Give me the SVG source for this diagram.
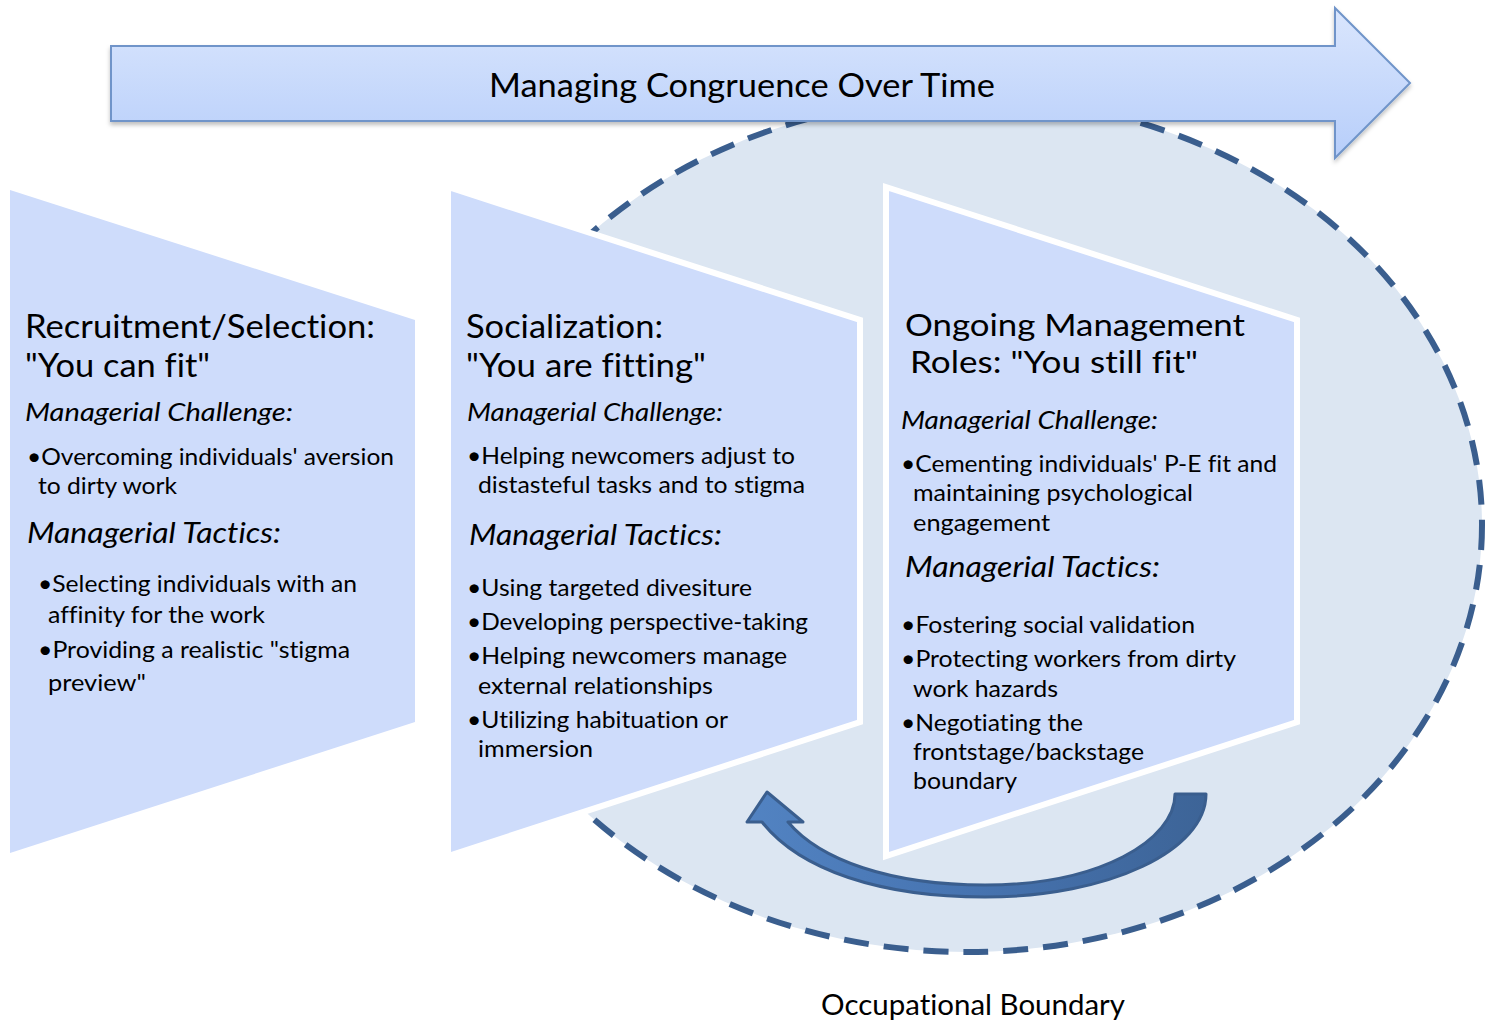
<svg xmlns="http://www.w3.org/2000/svg" width="1496" height="1021" viewBox="0 0 1496 1021">
  <defs>
    <linearGradient id="bandFill" x1="0" y1="0" x2="0" y2="1">
      <stop offset="0" stop-color="#dae6fd"/>
      <stop offset="1" stop-color="#b7cefa"/>
    </linearGradient>
    <linearGradient id="loopFill" x1="0" y1="0" x2="1" y2="0">
      <stop offset="0" stop-color="#5283c2"/>
      <stop offset="0.5" stop-color="#4673b0"/>
      <stop offset="1" stop-color="#3d6497"/>
    </linearGradient>
    <filter id="shadow" x="-5%" y="-20%" width="110%" height="150%">
      <feDropShadow dx="0" dy="3" stdDeviation="2" flood-color="#000" flood-opacity="0.25"/>
    </filter>
    <style>
      text { font-family: Lato, "Open Sans", "Liberation Sans", sans-serif; fill: #000; font-variant-ligatures: none; }
      .head { font-size: 33px; }
      .head2 { font-size: 31px; }
      .chal { font-size: 25px; font-style: italic; }
      .tact { font-size: 28px; font-style: italic; }
      .item { font-size: 23.5px; }
      .panel { fill: #cedcfb; }
      .framed { stroke: #ffffff; stroke-width: 6; stroke-linejoin: miter; }
    </style>
  </defs>

  <rect width="1496" height="1021" fill="#ffffff"/>

  <!-- occupational boundary ellipse -->
  <g id="boundary">
    <ellipse cx="967" cy="525" rx="515" ry="427" fill="#dce6f2" stroke="#3a5e8e" stroke-width="6" stroke-dasharray="25 15"/>
    <text x="973" y="1015" text-anchor="middle" font-size="28" textLength="304" lengthAdjust="spacingAndGlyphs">Occupational Boundary</text>
  </g>

  <!-- stage 1 -->
  <g id="recruitment">
    <polygon class="panel" points="10,190 415,320 415,722 10,853"/>
    <text class="head" x="25" y="338" textLength="350" lengthAdjust="spacingAndGlyphs">Recruitment/Selection:</text>
    <text class="head" x="25" y="377" textLength="185" lengthAdjust="spacingAndGlyphs">"You can fit"</text>
    <text class="chal" x="25" y="421" textLength="268" lengthAdjust="spacingAndGlyphs">Managerial Challenge:</text>
    <text class="item" x="27" y="465" textLength="367" lengthAdjust="spacingAndGlyphs">•Overcoming individuals' aversion</text>
    <text class="item" x="38" y="494" textLength="139" lengthAdjust="spacingAndGlyphs">to dirty work</text>
    <text class="tact" x="27" y="543" textLength="254" lengthAdjust="spacingAndGlyphs">Managerial Tactics:</text>
    <text class="item" x="38" y="592" textLength="319" lengthAdjust="spacingAndGlyphs">•Selecting individuals with an</text>
    <text class="item" x="48" y="623" textLength="217" lengthAdjust="spacingAndGlyphs">affinity for the work</text>
    <text class="item" x="38" y="658" textLength="312" lengthAdjust="spacingAndGlyphs">•Providing a realistic "stigma</text>
    <text class="item" x="48" y="691" textLength="98" lengthAdjust="spacingAndGlyphs">preview"</text>
  </g>

  <!-- stage 2 -->
  <g id="socialization">
    <polygon class="panel framed" points="448,187 860,320 860,722 448,856"/>
    <text class="head" x="466" y="338" textLength="197" lengthAdjust="spacingAndGlyphs">Socialization:</text>
    <text class="head" x="466" y="377" textLength="240" lengthAdjust="spacingAndGlyphs">"You are fitting"</text>
    <text class="chal" x="467" y="421" textLength="256" lengthAdjust="spacingAndGlyphs">Managerial Challenge:</text>
    <text class="item" x="467" y="464" textLength="328" lengthAdjust="spacingAndGlyphs">•Helping newcomers adjust to</text>
    <text class="item" x="478" y="493" textLength="327" lengthAdjust="spacingAndGlyphs">distasteful tasks and to stigma</text>
    <text class="tact" x="469" y="545" textLength="253" lengthAdjust="spacingAndGlyphs">Managerial Tactics:</text>
    <text class="item" x="467" y="596" textLength="285" lengthAdjust="spacingAndGlyphs">•Using targeted divesiture</text>
    <text class="item" x="467" y="630" textLength="341" lengthAdjust="spacingAndGlyphs">•Developing perspective-taking</text>
    <text class="item" x="467" y="664" textLength="320" lengthAdjust="spacingAndGlyphs">•Helping newcomers manage</text>
    <text class="item" x="478" y="694" textLength="235" lengthAdjust="spacingAndGlyphs">external relationships</text>
    <text class="item" x="467" y="728" textLength="261" lengthAdjust="spacingAndGlyphs">•Utilizing habituation or</text>
    <text class="item" x="478" y="757" textLength="115" lengthAdjust="spacingAndGlyphs">immersion</text>
  </g>

  <!-- stage 3 -->
  <g id="ongoing">
    <polygon class="panel framed" points="886,187 1297,320 1297,722 886,856"/>
    <text class="head2" x="905" y="336" textLength="340" lengthAdjust="spacingAndGlyphs">Ongoing Management</text>
    <text class="head2" x="910" y="373" textLength="288" lengthAdjust="spacingAndGlyphs">Roles: "You still fit"</text>
    <text class="chal" x="901" y="429" textLength="257" lengthAdjust="spacingAndGlyphs">Managerial Challenge:</text>
    <text class="item" x="901" y="472" textLength="376" lengthAdjust="spacingAndGlyphs">•Cementing individuals' P-E fit and</text>
    <text class="item" x="913" y="501" textLength="280" lengthAdjust="spacingAndGlyphs">maintaining psychological</text>
    <text class="item" x="913" y="531" textLength="137" lengthAdjust="spacingAndGlyphs">engagement</text>
    <text class="tact" x="905" y="577" textLength="255" lengthAdjust="spacingAndGlyphs">Managerial Tactics:</text>
    <text class="item" x="901" y="633" textLength="294" lengthAdjust="spacingAndGlyphs">•Fostering social validation</text>
    <text class="item" x="901" y="667" textLength="335" lengthAdjust="spacingAndGlyphs">•Protecting workers from dirty</text>
    <text class="item" x="913" y="697" textLength="145" lengthAdjust="spacingAndGlyphs">work hazards</text>
    <text class="item" x="901" y="731" textLength="182" lengthAdjust="spacingAndGlyphs">•Negotiating the</text>
    <text class="item" x="913" y="760" textLength="231" lengthAdjust="spacingAndGlyphs">frontstage/backstage</text>
    <text class="item" x="913" y="789" textLength="104" lengthAdjust="spacingAndGlyphs">boundary</text>
  </g>

  <!-- connectors -->
  <g id="connectors">
    <!-- curved return arrow from ongoing management back to socialization -->
    <path d="M 762,822 C 800,870 880,897 985,897 C 1110,897 1206,850 1206,794 L 1175,794 C 1175,840 1100,885 985,885 C 890,885 820,860 788,822 L 803,822 L 767,792 L 747,822 Z"
          fill="url(#loopFill)" stroke="#3a5e8e" stroke-width="3" stroke-linejoin="round"/>
    <!-- time arrow -->
    <g id="time-arrow">
      <path d="M 111,46 L 1335,46 L 1335,8 L 1410,83 L 1335,158 L 1335,121 L 111,121 Z"
            fill="url(#bandFill)" stroke="#6f94c9" stroke-width="2" filter="url(#shadow)"/>
      <text x="742" y="97" text-anchor="middle" font-size="33" textLength="506" lengthAdjust="spacingAndGlyphs">Managing Congruence Over Time</text>
    </g>
  </g>
</svg>
